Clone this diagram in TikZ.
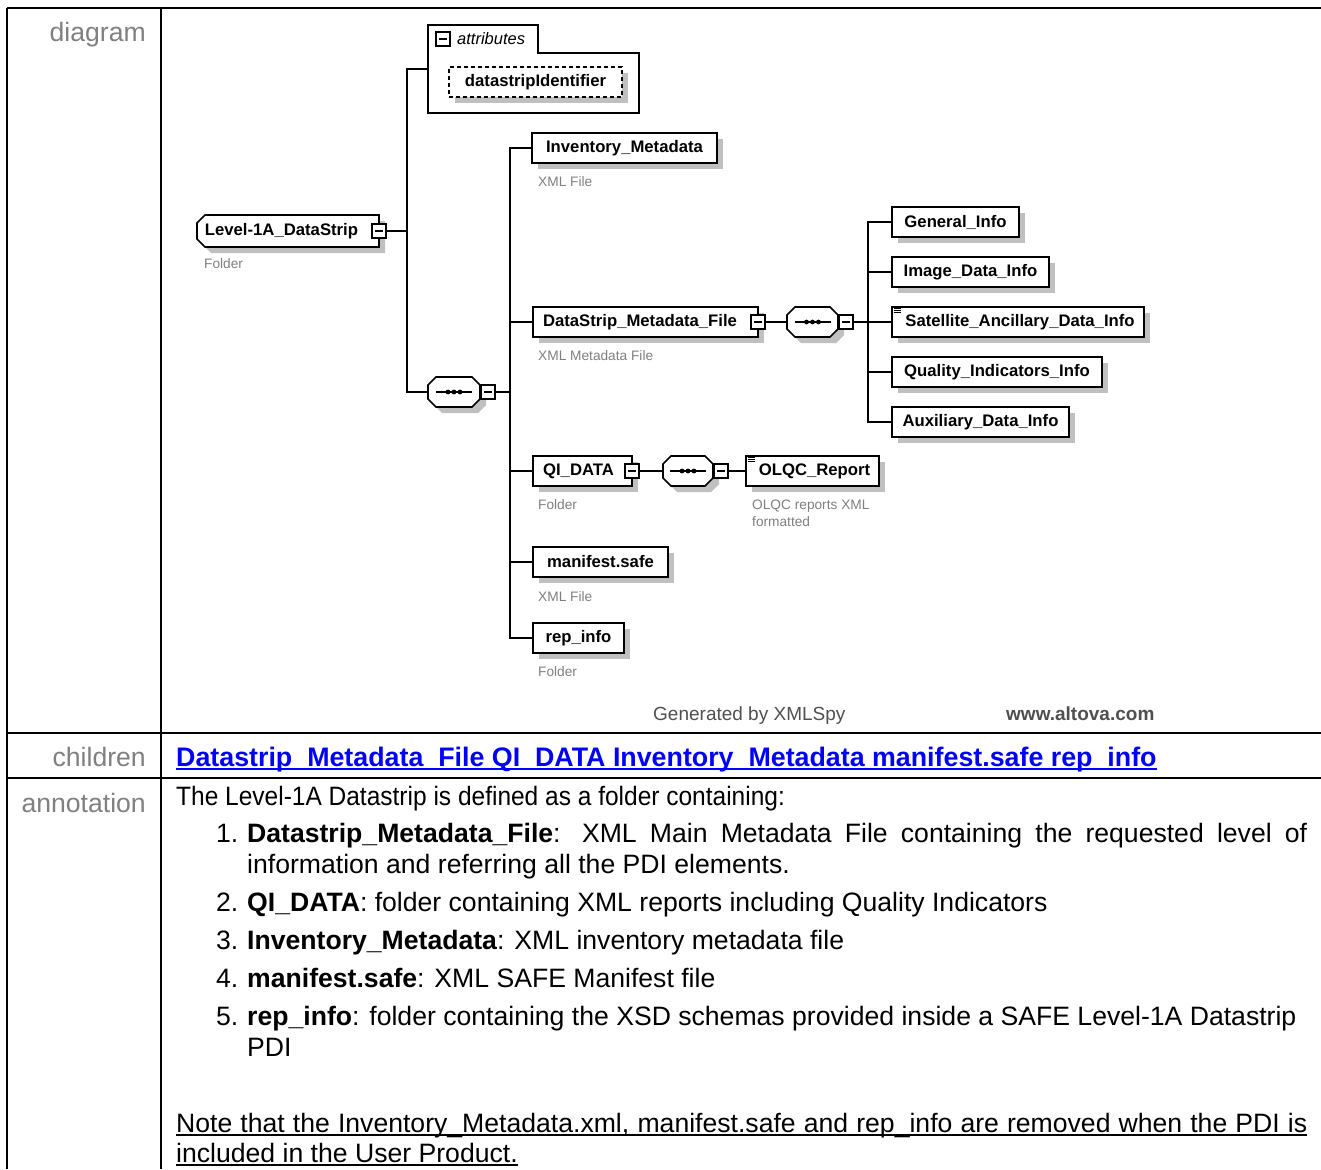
\documentclass[tikz,border=0pt]{standalone}
\usepackage{fontspec}
\setmainfont{Liberation Sans}
\usepackage{graphicx}
\usetikzlibrary{shadows,calc,backgrounds}
\definecolor{shgray}{HTML}{C0C0C0}
\definecolor{lblgray}{HTML}{808080}
\definecolor{ftgray}{HTML}{505050}
\definecolor{linkblue}{HTML}{0000FF}
\newcommand\bxfont{\fontsize{16.7}{20}\selectfont\bfseries}
\newcommand\smfont{\fontsize{13.7}{16}\selectfont}
\newcommand\annfont{\fontsize{26.6}{31}\selectfont}
\newcommand\ftfont{\fontsize{19}{22}\selectfont}
\newcommand\ulx[1]{\setbox0\hbox{#1}\rlap{\rule[-4pt]{\wd0}{1.8pt}}\box0}
\newcommand\gap[1]{\rule{#1}{0pt}}
\newcommand\SeqShape[4]{%
 \fill[shgray] (#1+14,#2+6) -- (#3-2,#2+6) -- (#3+6,#2+14) -- (#3+6,#4-2) -- (#3-2,#4+6) -- (#1+14,#4+6) -- (#1+6,#4-2) -- (#1+6,#2+14) -- cycle;
 \filldraw[fill=white, line width=1.6pt] (#1+8,#2) -- (#3-8,#2) -- (#3,#2+8) -- (#3,#4-8) -- (#3-8,#4) -- (#1+8,#4) -- (#1,#4-8) -- (#1,#2+8) -- cycle;}
\tikzset{
 elem/.style={draw, line width=1.6pt, fill=white, minimum height=30pt, inner sep=0pt, font=\bxfont,
   drop shadow={shadow xshift=6pt, shadow yshift=-6pt, fill=shgray, opacity=1}},
 ico/.style={draw, line width=1.2pt, fill=white, minimum size=14pt, inner sep=0pt,
   path picture={\draw[line width=1.3pt] ([xshift=-4pt]path picture bounding box.center) -- ([xshift=4pt]path picture bounding box.center);}},
 seqn/.style={minimum width=#1, minimum height=31pt, inner sep=0pt,
   path picture={\draw[line width=1.3pt] ([xshift=-18pt]path picture bounding box.center) -- ([xshift=18pt]path picture bounding box.center);
     \foreach \d in {-6,0,6} \fill ([xshift=\d pt]path picture bounding box.center) circle (2.4pt);}},
 lbl/.style={font=\smfont, text=lblgray, anchor=base west, inner sep=0pt},
 conn/.style={line width=1.6pt},
 tbl/.style={line width=2.7pt},
 side/.style={font=\annfont, text=lblgray, anchor=base east, inner sep=0pt},
 ann/.style={font=\annfont, anchor=base west, inner sep=0pt},
}
\begin{document}
\begin{tikzpicture}[x=1pt,y=-1pt]
\useasboundingbox (0,0) rectangle (1321,1169);
\begin{scope}[on background layer]
 \fill[white] (0,0) rectangle (1321,1169);
 % Level-1A shape (left corners chamfered)
 \fill[shgray] (211,221) -- (385,221) -- (385,253) -- (211,253) -- (203,245) -- (203,229) -- cycle;
 \filldraw[fill=white, line width=1.6pt] (205,215) -- (379,215) -- (379,247) -- (205,247) -- (197,239) -- (197,223) -- cycle;
 % sequence compositors
 \SeqShape{428}{377}{480}{407}
 \SeqShape{787}{307}{838}{337}
 \SeqShape{663}{456}{713}{486}
 % attributes container
 \draw[line width=1.6pt] (428,25) -- (538,25) -- (538,53) -- (639,53) -- (639,113) -- (428,113) -- cycle;
\end{scope}

% ---------- table ----------
\draw[tbl] (7,8) -- (1321,8);
\draw[tbl] (7,8) -- (7,1169);
\draw[tbl] (161,8) -- (161,1169);
\draw[tbl] (7,733) -- (1321,733);
\draw[tbl] (7,778) -- (1321,778);

\node[side] (sdiag) at (146,42) {diagram};
\node[side] (schild) at (146,766) {children};
\node[side] (sann) at (146,812) {annotation};

% ---------- diagram ----------
\node[minimum width=182pt, minimum height=32pt, inner sep=0pt, font=\bxfont] (L1) at (288,231) {Level-1A\_DataStrip\gap{13pt}};
\node[ico] (L1i) at (379,231) {};
\node[lbl] (L1l) at (204,268) {Folder};

\node[minimum width=211pt, minimum height=60pt, inner sep=0pt] (attrs) at (533.5,83) {};
\node[ico] (attri) at (443,39) {};
\node[anchor=west, inner sep=0pt, font=\fontsize{16.5}{18}\selectfont\itshape] (attrl) at (457,39) {attributes};
\node[elem, dash pattern=on 4pt off 3pt, line width=1.3pt, minimum width=173pt] (dsid) at (535.5,82) {datastripIdentifier};
\coordinate (attrin) at (428,69);

\node[seqn=52pt] (seq1) at (454,392) {};
\node[ico] (seq1i) at (488,392) {};

\coordinate (j1) at (407,231);
\coordinate (j2) at (510,392);

\node[elem, minimum width=185pt] (inv) at (624.5,148) {Inventory\_Metadata};
\node[lbl] (invl) at (538,186) {XML File};

\node[elem, minimum width=225pt] (dsm) at (645.5,322) {DataStrip\_Metadata\_File\gap{11pt}};
\node[ico] (dsmi) at (758,322) {};
\node[lbl] (dsml) at (538,360) {XML Metadata File};

\node[seqn=51pt] (seq2) at (812.5,322) {};
\node[ico] (seq2i) at (846,322) {};
\coordinate (j3) at (868,322);

\node[elem, minimum width=127pt] (gen) at (955.5,222) {General\_Info};
\node[elem, minimum width=157pt] (img) at (970.5,272) {Image\_Data\_Info};
\node[elem, minimum width=252pt] (sat) at (1018,322) {\gap{4pt}Satellite\_Ancillary\_Data\_Info};
\node[elem, minimum width=210pt] (qual) at (997,372) {Quality\_Indicators\_Info};
\node[elem, minimum width=177pt] (aux) at (980.5,422) {Auxiliary\_Data\_Info};

\node[elem, minimum width=99pt] (qi) at (582.5,471) {QI\_DATA\gap{8pt}};
\node[ico] (qii) at (632,471) {};
\node[lbl] (qil) at (538,509) {Folder};
\node[seqn=50pt] (seq3) at (688,471) {};
\node[ico] (seq3i) at (721,471) {};
\node[elem, minimum width=133pt] (olqc) at (812.5,471) {\gap{4pt}OLQC\_Report};
\node[lbl] (olqcl) at (752,509) {OLQC reports XML};
\node[lbl] (olqcl2) at (752,526) {formatted};

\node[elem, minimum width=135pt] (man) at (600.5,562) {manifest.safe};
\node[lbl] (manl) at (538,601) {XML File};
\node[elem, minimum width=91pt] (rep) at (578.5,638) {rep\_info};
\node[lbl] (repl) at (538,676) {Folder};

% list icons
\foreach \k in {2.5,4.5,6.5} {
  \draw[line width=0.9pt] ($(sat.north west)+(2.5,\k)$) -- ++(7,0);
  \draw[line width=0.9pt] ($(olqc.north west)+(2.5,\k)$) -- ++(7,0);
}

% connectors
\draw[conn] (L1i.east) -- (j1);
\draw[conn] (attrin) -| (j1) |- (seq1.west);
\draw[conn] (seq1i.east) -- (j2);
\draw[conn] (inv.west) -| (j2) |- (rep.west);
\draw[conn] (j2) |- (dsm.west);
\draw[conn] (j2) |- (qi.west);
\draw[conn] (j2) |- (man.west);
\draw[conn] (dsmi.east) -- (seq2.west);
\draw[conn] (seq2i.east) -- (j3);
\draw[conn] (gen.west) -| (j3) |- (aux.west);
\draw[conn] (j3) |- (img.west);
\draw[conn] (j3) |- (sat.west);
\draw[conn] (j3) |- (qual.west);
\draw[conn] (qii.east) -- (seq3.west);
\draw[conn] (seq3i.east) -- (olqc.west);

% footer
\node[anchor=base west, inner sep=0pt, font=\ftfont, text=ftgray] (foot1) at (653,720) {Generated by XMLSpy};
\node[anchor=base west, inner sep=0pt, font=\ftfont\bfseries, text=ftgray] (foot2) at (1006,720) {www.altova.com};

% ---------- children ----------
\node[ann, text=linkblue, font=\fontsize{26.8}{31}\selectfont] (childtxt) at (176,766) {\ulx{\textbf{Datastrip\_Metadata\_File QI\_DATA Inventory\_Metadata manifest.safe rep\_info}}};

% ---------- annotation ----------
\node[ann] (a0) at (176,805) {\scalebox{0.921}[1]{The Level-1A Datastrip is defined as a folder containing:}};
\node[ann] (n1) at (216,842) {1.};
\node[ann] (a1) at (247,842) {\makebox[1060pt][s]{\textbf{Datastrip\_Metadata\_File}: XML Main Metadata File containing the requested level of}};
\node[ann] (a1b) at (247,873) {information and referring all the PDI elements.};
\node[ann] (n2) at (216,911) {2.};
\node[ann] (a2) at (247,911) {\textbf{QI\_DATA}: folder containing XML reports including Quality Indicators};
\node[ann] (n3) at (216,949) {3.};
\node[ann] (a3) at (247,949) {\textbf{Inventory\_Metadata}: XML inventory metadata file};
\node[ann] (n4) at (216,987) {4.};
\node[ann] (a4) at (247,987) {\textbf{manifest.safe}: XML SAFE Manifest file};
\node[ann] (n5) at (216,1025) {5.};
\node[ann] (a5) at (247,1025) {\textbf{rep\_info}: folder containing the XSD schemas provided inside a SAFE Level-1A Datastrip};
\node[ann] (a5b) at (247,1056) {PDI};
\node[ann] (note1) at (176,1132) {\ulx{\makebox[1131pt][s]{Note that the Inventory\_Metadata.xml, manifest.safe and rep\_info are removed when the PDI is}}};
\node[ann] (note2) at (176,1162) {\ulx{included in the User Product.}};
\end{tikzpicture}
\end{document}
